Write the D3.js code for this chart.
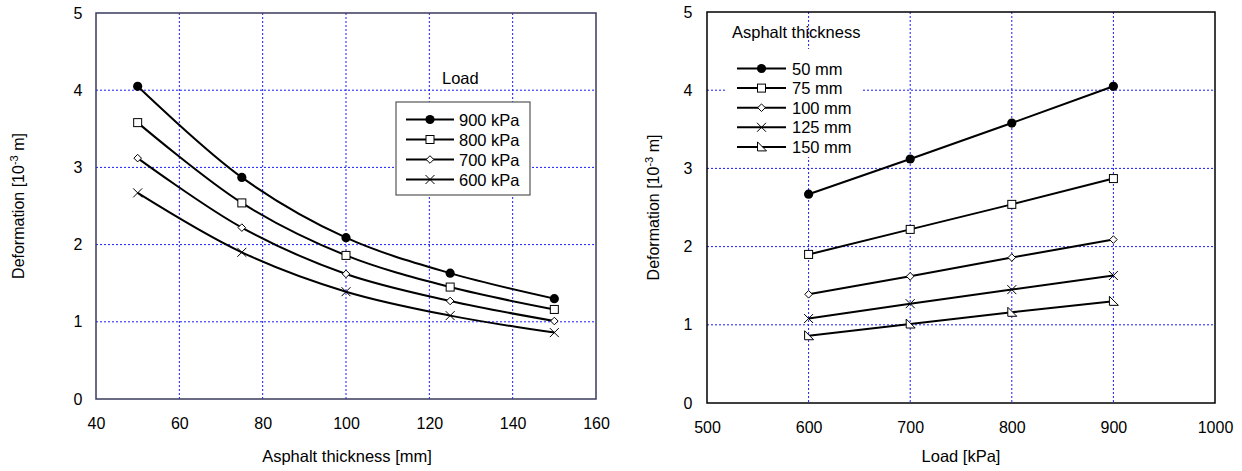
<!DOCTYPE html>
<html>
<head>
<meta charset="utf-8">
<script src="https://cdn.jsdelivr.net/npm/d3@7"></script>
<style>
body { margin:0; background:#fff; }
text { font-family: "Liberation Sans", Arial, sans-serif; fill:#000; }
</style>
</head>
<body>
<svg id="chart" width="1242" height="471"></svg>
<script>
// data
let thickness = [50, 75, 100, 125, 150];
let loads = [900, 800, 700, 600];
let def900 = [4.05, 2.87, 2.09, 1.63, 1.30];
let def800 = [3.58, 2.54, 1.86, 1.45, 1.16];
let def700 = [3.12, 2.22, 1.62, 1.27, 1.01];
let def600 = [2.67, 1.90, 1.39, 1.08, 0.86];
let loadTicks = [500, 600, 700, 800, 900, 1000];
let thickTicks = [40, 60, 80, 100, 120, 140, 160];
let defTicks = [0, 1, 2, 3, 4, 5];
let markers = ["circle", "square", "diamond", "cross", "tri"];

let byLoad = [def900, def800, def700, def600];
// transposed for the right chart: one series per thickness, loads ascending
let loadAsc = [600, 700, 800, 900];
let byThick = thickness.map(function(t, i){
	return loadAsc.map(function(l){ return byLoad[loads.indexOf(l)][i]; });
});

let svg = d3.select("#chart");

function drawMarker(g, type, cx, cy){
	if(type == "circle"){
		g.append("circle").attr("cx",cx).attr("cy",cy).attr("r",4.6).attr("fill","#000");
	} else if(type == "square"){
		g.append("rect").attr("x",cx-4).attr("y",cy-4).attr("width",8).attr("height",8)
			.attr("fill","#fff").attr("stroke","#000").attr("stroke-width",1);
	} else if(type == "diamond"){
		g.append("path").attr("d","M"+cx+","+(cy-3.8)+"L"+(cx+3.8)+","+cy+"L"+cx+","+(cy+3.8)+"L"+(cx-3.8)+","+cy+"Z")
			.attr("fill","#fff").attr("stroke","#000").attr("stroke-width",1);
	} else if(type == "cross"){
		g.append("path").attr("d","M"+(cx-4.5)+","+(cy-4.5)+"L"+(cx+4.5)+","+(cy+4.5)+"M"+(cx+4.5)+","+(cy-4.5)+"L"+(cx-4.5)+","+(cy+4.5))
			.attr("fill","none").attr("stroke","#000").attr("stroke-width",1);
	} else if(type == "tri"){
		g.append("path").attr("d","M"+(cx-4)+","+(cy-5)+"L"+(cx+5)+","+(cy+4)+"L"+(cx-4)+","+(cy+4)+"Z")
			.attr("fill","#fff").attr("stroke","#000").attr("stroke-width",1);
	}
}

function panel(opt){
	let x = d3.scaleLinear().domain(opt.xdom).range([opt.left, opt.right]);
	let y = d3.scaleLinear().domain([0,5]).range([opt.bottom, opt.top]);
	let g = svg.append("g");

	// grid
	g.append("g").selectAll("line.gx").data(opt.xticks.slice(1,-1)).enter().append("line")
		.attr("x1",d=>x(d)).attr("x2",d=>x(d)).attr("y1",opt.top).attr("y2",opt.bottom)
		.attr("stroke","#1a1aff").attr("stroke-width",1).attr("stroke-dasharray","2,2");
	g.append("g").selectAll("line.gy").data(defTicks.slice(1,-1)).enter().append("line")
		.attr("y1",d=>y(d)).attr("y2",d=>y(d)).attr("x1",opt.left).attr("x2",opt.right)
		.attr("stroke","#1a1aff").attr("stroke-width",1).attr("stroke-dasharray","2,2");

	// frame
	g.append("rect").attr("x",opt.left).attr("y",opt.top)
		.attr("width",opt.right-opt.left).attr("height",opt.bottom-opt.top)
		.attr("fill","none").attr("stroke",opt.frame).attr("stroke-width",1.5);

	// axes via d3 (lines hidden, labels kept)
	g.append("g").attr("transform","translate(0,"+opt.bottom+")")
		.call(d3.axisBottom(x).tickValues(opt.xticks).tickSize(0).tickPadding(19).tickFormat(d3.format("d")));
	g.append("g").attr("transform","translate("+opt.left+",0)")
		.call(d3.axisLeft(y).tickValues(defTicks).tickSize(0).tickPadding(opt.ypad).tickFormat(d3.format("d")));
	g.selectAll(".domain").remove();
	g.selectAll(".tick text").attr("font-size","16px").attr("font-family","Liberation Sans, Arial, sans-serif").attr("fill","#000");

	// axis titles
	g.append("text").attr("x",opt.xtx).attr("y",461.5).attr("text-anchor","middle")
		.attr("font-size","16.5px").text(opt.xtitle);
	let yt = g.append("text").attr("transform","translate("+opt.ytx+","+((opt.top+opt.bottom)/2)+") rotate(-90)")
		.attr("text-anchor","middle").attr("font-size","16px");
	yt.append("tspan").text("Deformation [10");
	yt.append("tspan").attr("baseline-shift","super").attr("font-size","11px").text("-3");
	yt.append("tspan").text(" m]");

	// lines
	let line = d3.line().x(d=>x(d[0])).y(d=>y(d[1])).curve(opt.curve);
	opt.series.forEach(function(s, i){
		let pts = opt.xs.map((v,k)=>[v, s[k]]);
		g.append("path").datum(pts).attr("d",line)
			.attr("fill","none").attr("stroke","#000").attr("stroke-width",2);
	});
	opt.series.forEach(function(s, i){
		opt.xs.forEach(function(v,k){ drawMarker(g, markers[i], x(v), y(s[k])); });
	});
	return g;
}

panel({left:96, right:596, top:13, bottom:399, xdom:[40,160], xticks:thickTicks,
	xs:thickness, series:byLoad, curve:d3.curveCatmullRom.alpha(0.5), frame:"#3a3a5e",
	xtitle:"Asphalt thickness [mm]", xtx:347, ytx:24, ypad:13.5});

panel({left:707, right:1215, top:12, bottom:403, xdom:[500,1000], xticks:loadTicks,
	xs:loadAsc, series:byThick, curve:d3.curveLinear, frame:"#000",
	xtitle:"Load [kPa]", xtx:961, ytx:659, ypad:14.5});

// left legend
let lg = svg.append("g");
lg.append("text").attr("x",442).attr("y",84).attr("font-size","16.5px").text("Load");
lg.append("rect").attr("x",396).attr("y",102).attr("width",134).attr("height",93)
	.attr("fill","#fff").attr("stroke","#555").attr("stroke-width",1.2);
loads.forEach(function(l,i){
	let yy = 119.5 + i*20;
	lg.append("line").attr("x1",406).attr("x2",454).attr("y1",yy).attr("y2",yy).attr("stroke","#000").attr("stroke-width",2);
	drawMarker(lg, markers[i], 430, yy);
	lg.append("text").attr("x",459).attr("y",yy+6).attr("font-size","16.5px").text(l+" kPa");
});

// right legend
let rg = svg.append("g");
rg.append("rect").attr("x",727).attr("y",49).attr("width",136).attr("height",108).attr("fill","#fff");
rg.append("text").attr("x",732).attr("y",38).attr("font-size","16.5px").text("Asphalt thickness");
thickness.forEach(function(t,i){
	let yy = 68.5 + i*19.6;
	rg.append("line").attr("x1",737).attr("x2",786).attr("y1",yy).attr("y2",yy).attr("stroke","#000").attr("stroke-width",2);
	drawMarker(rg, markers[i], 761.5, yy);
	rg.append("text").attr("x",792).attr("y",yy+6).attr("font-size","16.5px").text(t+" mm");
});
</script>
</body>
</html>
